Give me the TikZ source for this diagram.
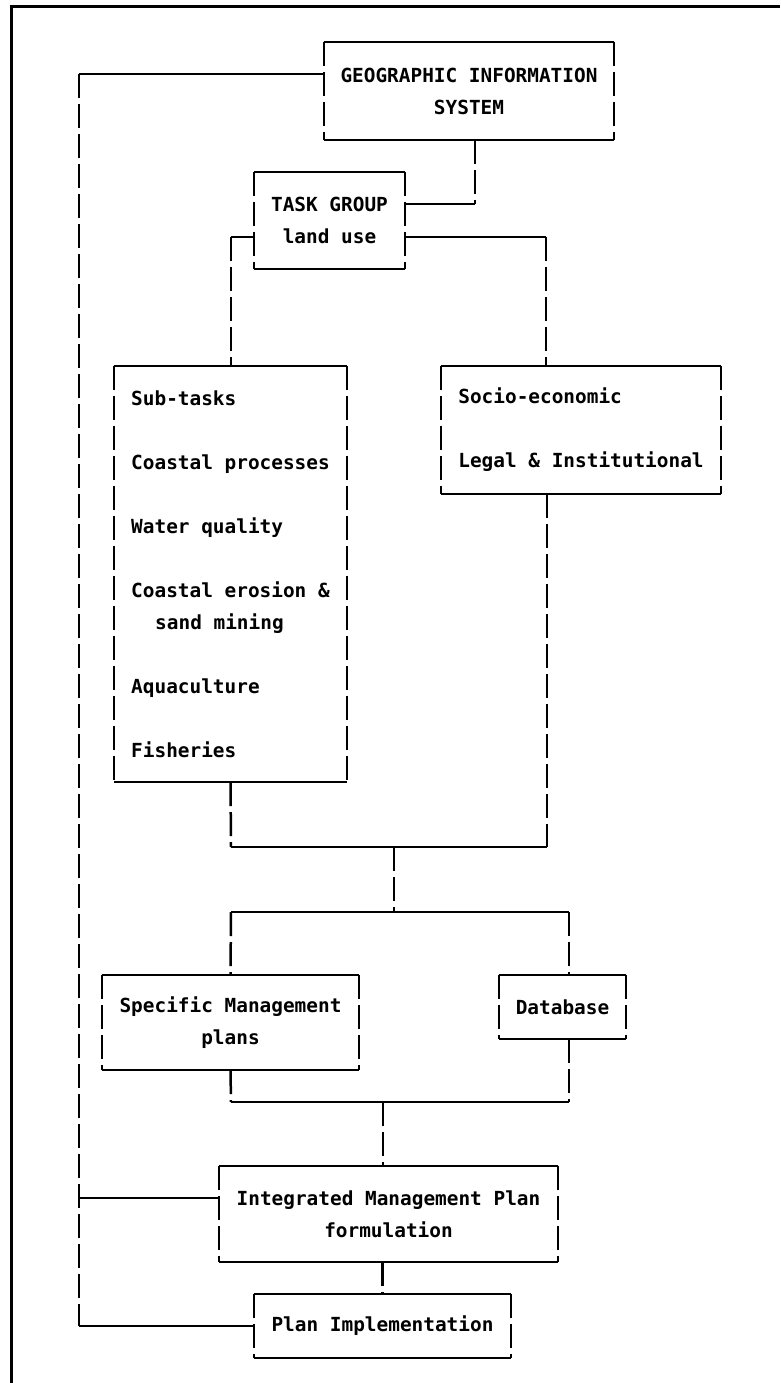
\documentclass[tikz,border=0pt]{standalone}
\usepackage{fontspec}
\newfontfamily\chartfont{DejaVu Sans Mono}
\tikzset{
  box/.style={inner sep=0pt, align=center,
    font=\chartfont\bfseries\fontsize{19.4}{32}\selectfont},
  hline/.style={line width=2.5pt},
  vline/.style={line width=2.5pt, dash pattern=on 24pt off 6pt},
}
\begin{document}
\begin{tikzpicture}[x=1pt,y=-1pt]
  \useasboundingbox (0,0) rectangle (780,1383);
  % frame
  \draw[line width=3pt] (780,7) -- (11,7) -- (11,1383);
  % boxes
  \node[box, minimum width=290pt, minimum height=98pt] (gis) at (469,91) {GEOGRAPHIC INFORMATION\\SYSTEM};
  \node[box, minimum width=151pt, minimum height=97pt] (task) at (329.5,220.5) {TASK GROUP\\land use};
  \node[box, align=left, minimum width=233pt, minimum height=416pt] (sub) at (230.5,574) {Sub-tasks\\[32pt]Coastal processes\\[32pt]Water quality\\[32pt]Coastal erosion \&\\\hspace*{24pt}sand mining\\[32pt]Aquaculture\\[32pt]Fisheries};
  \node[box, align=left, minimum width=280pt, minimum height=128pt] (soc) at (581,430) {Socio-economic\\[32pt]Legal \& Institutional};
  \node[box, minimum width=257pt, minimum height=95pt] (spec) at (230.5,1022.5) {Specific Management\\plans};
  \node[box, minimum width=127pt, minimum height=64pt] (db) at (562.5,1007) {Database};
  \node[box, minimum width=339pt, minimum height=96pt] (imp) at (388.5,1214) {Integrated Management Plan\\formulation};
  \node[box, minimum width=257pt, minimum height=64pt] (impl) at (382.5,1326) {Plan Implementation};
  \foreach \b in {gis,task,sub,soc,spec,db,imp,impl}{
    \draw[hline] (\b.north west) -- (\b.north east);
    \draw[hline] (\b.south west) -- (\b.south east);
    \draw[vline] (\b.north west) -- (\b.south west);
    \draw[vline] (\b.north east) -- (\b.south east);
  }
  % corners of the connectors
  \coordinate (lt) at (79,74);
  \coordinate (lb) at (79,1326);
  \coordinate (li) at (79,1198);
  \coordinate (gt) at (475,204);
  \coordinate (ts) at (231,237);
  \coordinate (tc) at (546,237);
  \coordinate (aL) at (231,847);
  \coordinate (aR) at (547,847);
  \coordinate (aM) at (394,847);
  \coordinate (bL) at (231,912);
  \coordinate (bR) at (569,912);
  \coordinate (bM) at (394,912);
  \coordinate (cL) at (231,1102);
  \coordinate (cR) at (569,1102);
  \coordinate (cM) at (383,1102);
  % connectors
  \draw[hline] (lt -| gis.west) -- (lt);
  \draw[vline] (lt) -- (lb);
  \draw[hline] (lb) -- (impl.west);
  \draw[hline] (li) -- (li -| imp.west);
  \draw[vline] (gt |- gis.south) -- (gt);
  \draw[hline] (gt) -- (gt -| task.east);
  \draw[hline] (ts -| task.west) -- (ts);
  \draw[vline] (ts) -- (ts |- sub.north);
  \draw[hline] (tc -| task.east) -- (tc);
  \draw[vline] (tc) -- (tc |- soc.north);
  \draw[vline] (sub.south) -- (aL);
  \draw[vline] (aR |- soc.south) -- (aR);
  \draw[hline] (aL) -- (aR);
  \draw[vline] (aM) -- (bM);
  \draw[hline] (bL) -- (bR);
  \draw[vline] (bL) -- (spec.north);
  \draw[vline] (bR) -- (bR |- db.north);
  \draw[vline] (spec.south) -- (cL);
  \draw[vline] (cR |- db.south) -- (cR);
  \draw[hline] (cL) -- (cR);
  \draw[vline] (cM) -- (cM |- imp.north);
  \draw[vline] (imp.south -| impl.north) -- (impl.north);
\end{tikzpicture}
\end{document}
